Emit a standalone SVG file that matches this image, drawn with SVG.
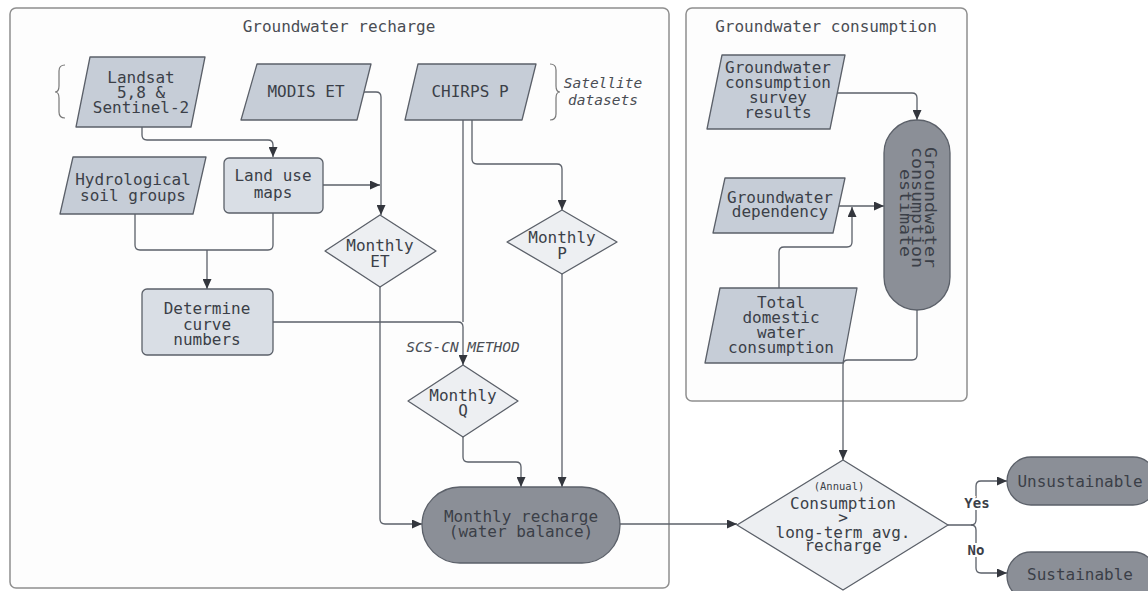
<svg xmlns="http://www.w3.org/2000/svg" width="1148" height="591" viewBox="0 0 1148 591">
<style>
text{font-family:"DejaVu Sans Mono","Liberation Mono",monospace;fill:#3b3f48;font-size:16px;text-anchor:middle}
.cont{fill:#fdfdfd;stroke:#8f8f8f;stroke-width:1.5}
.title{font-size:16px;fill:#4a4d54}
.para{fill:#c6cdd7;stroke:#5b6069;stroke-width:1.3;stroke-linejoin:round}
.proc{fill:#d9dee5;stroke:#5b6069;stroke-width:1.3}
.dec{fill:#edeff2;stroke:#5b6069;stroke-width:1.3;stroke-linejoin:round}
.term{fill:#8b8f97;stroke:#5b6069;stroke-width:1.3}
.it{font-style:italic;font-size:14.5px;fill:#4a4d54}
.lbl{font-weight:bold;font-size:14px;stroke:#fff;stroke-width:4;paint-order:stroke}
.c{fill:none;stroke:#5b6069;stroke-width:1.3}
.br{fill:none;stroke:#777;stroke-width:1.2}
</style>
<defs>
<marker id="ah" markerUnits="userSpaceOnUse" markerWidth="11" markerHeight="9" refX="10" refY="4.5" orient="auto">
<path d="M0,0 L10,4.5 L0,9 z" fill="#33363d"/>
</marker>
</defs>
<rect width="1148" height="591" fill="#ffffff"/>
<g id="container-recharge">
<rect class="cont" x="10" y="8" width="659" height="580" rx="6"/>
<text class="title" x="339" y="32">Groundwater recharge</text>
</g>
<g id="container-consumption">
<rect class="cont" x="686" y="8" width="281" height="393" rx="6"/>
<text class="title" x="826" y="32">Groundwater consumption</text>
</g>
<g id="connectors">
<path class="c" d="M142,127 V135 Q142,140 147,140 H268 Q273,140 273,145 V157" marker-end="url(#ah)"/>
<path class="c" d="M323,185 H380" marker-end="url(#ah)"/>
<path class="c" d="M364,92 H376 Q381,92 381,97 V215" marker-end="url(#ah)"/>
<path class="c" d="M135,214 V245 Q135,250 140,250 H268 Q273,250 273,245 V213"/>
<path class="c" d="M207,250 V289" marker-end="url(#ah)"/>
<path class="c" d="M463,120 V322"/>
<path class="c" d="M273,322 H458 Q463,322 463,327 V365" marker-end="url(#ah)"/>
<path class="c" d="M472,120 V159 Q472,164 477,164 H557 Q562,164 562,169 V210" marker-end="url(#ah)"/>
<path class="c" d="M380,287 V519 Q380,524 385,524 H422" marker-end="url(#ah)"/>
<path class="c" d="M463,437 V457 Q463,462 468,462 H516 Q521,462 521,467 V487" marker-end="url(#ah)"/>
<path class="c" d="M562,274 V487" marker-end="url(#ah)"/>
<path class="c" d="M620,524 H737" marker-end="url(#ah)"/>
<path class="c" d="M836,93 H912 Q917,93 917,98 V120" marker-end="url(#ah)"/>
<path class="c" d="M839,206 H884" marker-end="url(#ah)"/>
<path class="c" d="M779,288 V252 Q779,247 784,247 H847 Q852,247 852,242 V207" marker-end="url(#ah)"/>
<path class="c" d="M917,310 V355 Q917,360 912,360 H848 Q843,360 843,365 V460" marker-end="url(#ah)"/>
<path class="c" d="M948,525 H971 Q976,525 976,520 V486 Q976,481 981,481 H1007" marker-end="url(#ah)"/>
<path class="c" d="M971,525 Q976,525 976,530 V568 Q976,573 981,573 H1007" marker-end="url(#ah)"/>
<text class="it" x="463" y="352" style="stroke:#fdfdfd;stroke-width:4;paint-order:stroke">SCS-CN METHOD</text>
<text class="lbl" x="977" y="508">Yes</text>
<text class="lbl" x="976" y="555">No</text>
</g>
<g id="satellite-brace">
<path class="br" d="M65,65 Q59,65 59,71 V86 Q59,92 55,92 Q59,92 59,98 V112 Q59,118 65,118"/>
<path class="br" d="M550,64 Q556,64 556,70 V86 Q556,92 560,92 Q556,92 556,98 V114 Q556,120 550,120"/>
<text class="it" x="603" y="88">Satellite</text>
<text class="it" x="603" y="105">datasets</text>
</g>
<g id="landsat">
<polygon class="para" points="90,57 205,57 191,127 76,127"/>
<text x="141" y="83">Landsat</text>
<text x="141" y="98">5,8 &amp;</text>
<text x="141" y="113">Sentinel-2</text>
</g>
<g id="modis">
<polygon class="para" points="257,64 371,64 357,120 241,120"/>
<text x="306" y="97">MODIS ET</text>
</g>
<g id="chirps">
<polygon class="para" points="418,64 536,64 522,120 405,120"/>
<text x="470" y="97">CHIRPS P</text>
</g>
<g id="hydrological">
<polygon class="para" points="73,157 206,157 193,214 60,214"/>
<text x="133" y="185">Hydrological</text>
<text x="133" y="201">soil groups</text>
</g>
<g id="landuse">
<rect class="proc" x="224" y="158" width="99" height="55" rx="5"/>
<text x="273" y="181">Land use</text>
<text x="273" y="198">maps</text>
</g>
<g id="curve-numbers">
<rect class="proc" x="142" y="289" width="131" height="66" rx="5"/>
<text x="207" y="314">Determine</text>
<text x="207" y="330">curve</text>
<text x="207" y="345">numbers</text>
</g>
<g id="monthly-et">
<polygon class="dec" points="380,215 436,251 380,287 325,251"/>
<text x="380" y="251">Monthly</text>
<text x="380" y="267">ET</text>
</g>
<g id="monthly-p">
<polygon class="dec" points="562,210 617,242 562,274 507,242"/>
<text x="562" y="243">Monthly</text>
<text x="562" y="259">P</text>
</g>
<g id="monthly-q">
<polygon class="dec" points="463,365 518,401 463,437 408,401"/>
<text x="463" y="401">Monthly</text>
<text x="463" y="416">Q</text>
</g>
<g id="monthly-recharge">
<rect class="term" x="422" y="487" width="198" height="76" rx="38"/>
<text x="521" y="522">Monthly recharge</text>
<text x="521" y="537">(water balance)</text>
</g>
<g id="decision">
<polygon class="dec" points="843,460 948,525 843,590 737,525"/>
<text x="839" y="490" style="font-size:10.5px">(Annual)</text>
<text x="843" y="509">Consumption</text>
<text x="843" y="523">&gt;</text>
<text x="843" y="538">long-term avg.</text>
<text x="843" y="551">recharge</text>
</g>
<g id="unsustainable">
<rect class="term" x="1007" y="457" width="150" height="48" rx="24"/>
<text x="1080" y="487">Unsustainable</text>
</g>
<g id="sustainable">
<rect class="term" x="1007" y="552" width="150" height="48" rx="24"/>
<text x="1080" y="580">Sustainable</text>
</g>
<g id="survey">
<polygon class="para" points="722,55 845,55 830,129 707,129"/>
<text x="778" y="73">Groundwater</text>
<text x="778" y="88">consumption</text>
<text x="778" y="103">survey</text>
<text x="778" y="118">results</text>
</g>
<g id="dependency">
<polygon class="para" points="725,178 845,178 833,233 713,233"/>
<text x="780" y="203">Groundwater</text>
<text x="780" y="217">dependency</text>
</g>
<g id="total-domestic">
<polygon class="para" points="720,288 857,288 843,363 705,363"/>
<text x="781" y="308">Total</text>
<text x="781" y="323">domestic</text>
<text x="781" y="338">water</text>
<text x="781" y="353">consumption</text>
</g>
<g id="consumption-estimate">
<rect class="term" x="884" y="120" width="66" height="190" rx="33"/>
<text transform="translate(917,213) rotate(90) scale(1.18,1)" style="font-size:15.5px">
<tspan x="0" y="-8.5">Groundwater</tspan>
<tspan x="0" y="4.5">consumption</tspan>
<tspan x="0" y="17.5">estimate</tspan>
</text>
</g>
</svg>
